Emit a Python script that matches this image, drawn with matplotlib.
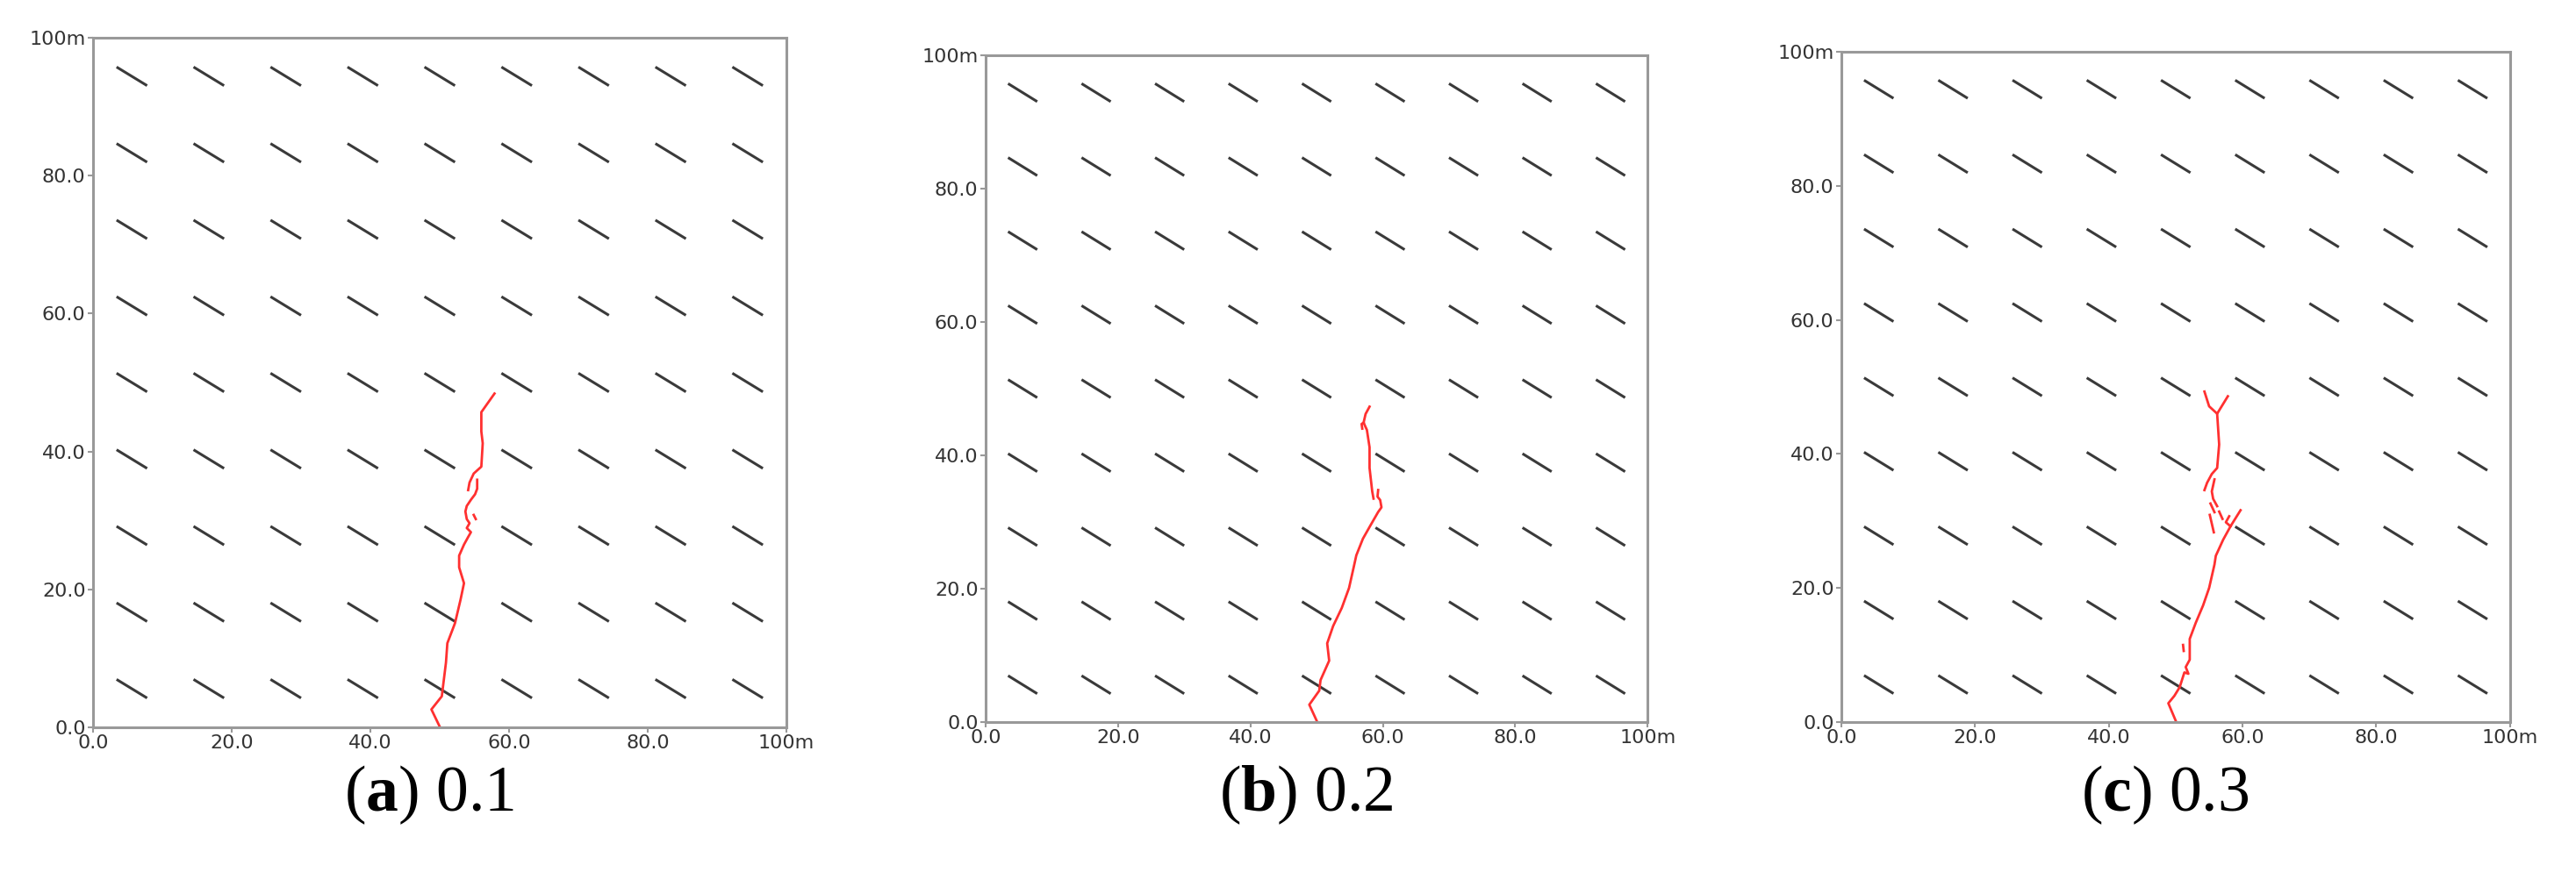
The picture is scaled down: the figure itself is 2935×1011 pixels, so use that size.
import matplotlib
matplotlib.use("Agg")
import matplotlib.pyplot as plt

# tick values and labels (same on both axes)
tick_vals = [0, 20, 40, 60, 80, 100]
tick_labels = ["0.0", "20.0", "40.0", "60.0", "80.0", "100m"]

# centres of the regular set of short fractures (same rows and columns)
frac_pos = [5.6, 16.7, 27.8, 38.9, 50.0, 61.1, 72.2, 83.3, 94.4]
frac_dx = 2.2   # half extent in x
frac_dy = 1.35  # half extent in y

captions = [("a", "0.1"), ("b", "0.2"), ("c", "0.3")]

# crack traces, one list of segments per panel, each segment a list of (x, y)
crack_a = [
    [(50.0, 0.1), (48.8, 2.6), (50.3, 4.5), (50.9, 9.4), (51.1, 12.2), (52.2, 15.1),
     (53.0, 18.5), (53.5, 20.9), (52.8, 23.2), (52.8, 24.9), (53.5, 26.5), (54.1, 27.6),
     (54.5, 28.3), (53.9, 28.9), (54.3, 29.6), (53.9, 30.2), (53.7, 31.3), (53.9, 32.1),
     (54.5, 33.0), (55.1, 33.8), (55.4, 34.6), (55.4, 35.9)],
    [(57.9, 48.4), (56.0, 45.7), (56.0, 42.9), (56.2, 41.2), (56.0, 37.8), (54.9, 36.8),
     (54.3, 35.5), (54.1, 34.4)],
    [(54.9, 30.8), (55.2, 30.2)],
]

crack_b = [
    [(50.1, 0.0), (48.9, 2.6), (50.4, 4.7), (50.6, 6.3), (51.9, 9.2), (51.6, 11.8),
     (52.5, 14.4), (53.8, 17.1), (54.9, 20.1), (55.6, 23.2), (56.0, 25.0), (57.0, 27.5),
     (58.2, 29.6), (59.3, 31.5), (59.8, 32.2), (59.6, 33.3), (59.2, 33.8), (59.3, 34.8)],
    [(58.0, 47.3), (57.4, 46.2), (57.1, 44.9), (57.6, 43.8), (58.0, 41.2), (58.0, 38.1),
     (58.4, 34.6), (58.6, 33.5)],
    [(57.1, 44.9), (56.8, 44.7), (56.9, 44.0)],
]

crack_c = [
    [(50.0, 0.2), (48.9, 2.8), (49.8, 3.9), (50.6, 5.2), (51.3, 7.4), (51.9, 7.2),
     (51.5, 8.2), (52.1, 9.3), (52.1, 12.4), (53.0, 14.8), (54.1, 17.4), (55.0, 20.0),
     (55.8, 23.5), (56.0, 24.8), (57.1, 27.2), (58.2, 29.2), (59.7, 31.6)],
    [(58.2, 29.2), (57.5, 29.8), (58.0, 30.7)],
    [(54.3, 49.3), (55.0, 47.1), (56.2, 46.0), (57.8, 48.6)],
    [(56.2, 46.0), (56.5, 41.4), (56.2, 37.9), (55.4, 37.0), (54.7, 35.7), (54.3, 34.6)],
    [(55.8, 36.2), (55.4, 34.4), (55.6, 33.3), (56.2, 32.2)],
    [(55.1, 30.9), (55.7, 28.3)],
    [(55.2, 32.6), (55.8, 31.3)],
    [(56.5, 31.4), (57.0, 30.3)],
    [(51.1, 11.5), (51.2, 10.6)],
]

cracks = [crack_a, crack_b, crack_c]

# axes boxes in figure fractions [left, bottom, width, height]
boxes = [
    [0.0361, 0.180, 0.2692, 0.7775],
    [0.3826, 0.186, 0.2570, 0.7517],
    [0.7148, 0.186, 0.2596, 0.7557],
]

plt.rcParams["mathtext.fontset"] = "custom"
plt.rcParams["mathtext.rm"] = "Liberation Serif"
plt.rcParams["mathtext.bf"] = "Liberation Serif:bold"

fig = plt.figure(figsize=(29.35, 10.11), dpi=100)

for box, crack, cap in zip(boxes, cracks, captions):
    ax = fig.add_axes(box)

    # background fractures
    for cx in frac_pos:
        for cy in frac_pos:
            ax.plot([cx - frac_dx, cx + frac_dx], [cy + frac_dy, cy - frac_dy],
                    color="#3a3a3a", lw=2.2, solid_capstyle="butt")

    # crack
    for seg in crack:
        xs = [p[0] for p in seg]
        ys = [p[1] for p in seg]
        ax.plot(xs, ys, color="#ff3030", lw=2.0)

    ax.set_xlim(0, 100)
    ax.set_ylim(0, 100)
    ax.set_xticks(tick_vals)
    ax.set_xticklabels(tick_labels)
    ax.set_yticks(tick_vals)
    ax.set_yticklabels(tick_labels)
    ax.tick_params(labelsize=16, labelcolor="#333333", color="#999999",
                   length=4, width=1.5, pad=2)
    for sp in ax.spines.values():
        sp.set_color("#999999")
        sp.set_linewidth(2.2)

    xc = box[0] + box[2] / 2 - 0.004
    fig.text(xc, 0.104, r"($\mathbf{%s}$) %s" % cap, ha="center", va="center",
             fontsize=53, family="Liberation Serif")

fig.savefig("out.png", dpi=100, facecolor="white")
